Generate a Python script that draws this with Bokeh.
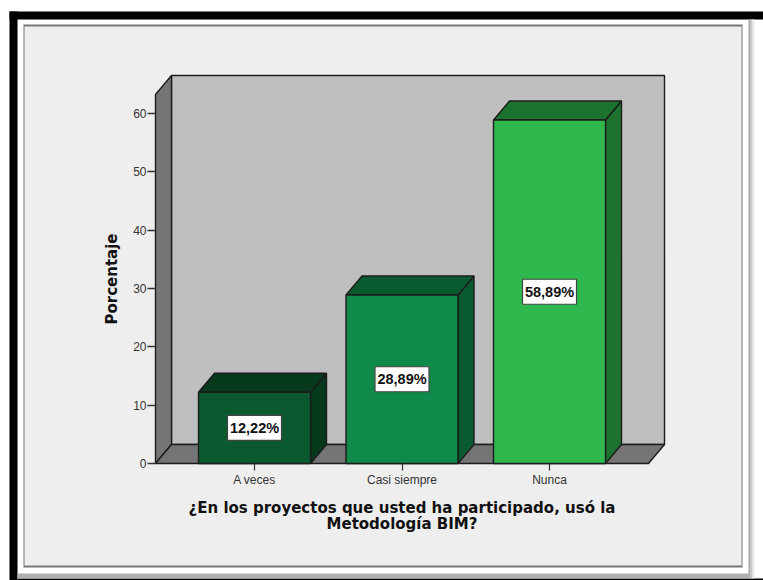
from bokeh.core.properties import value
from bokeh.embed import file_html
from bokeh.models import BoxAnnotation, FixedTicker, LinearAxis, Range1d
from bokeh.plotting import figure
from bokeh.resources import INLINE

categories = ["A veces", "Casi siempre", "Nunca"]
percentages = [12.22, 28.89, 58.89]
percent_labels = ["12,22%", "28,89%", "58,89%"]
y_ticks = [0, 10, 20, 30, 40, 50, 60]
y_title = "Porcentaje"
x_title = "¿En los proyectos que usted ha participado, usó la\nMetodología BIM?"

front_colors = ["#0b5a2f", "#0f8a4b", "#2fb84d"]
shade_colors = ["#07391d", "#0a5a30", "#1c722f"]
wall_color = "#bfbfbf"
side_color = "#757575"
edge_color = "#1c1c1c"

W, H = 763, 580
# pixel scale of the plot: category spacing and height of one percentage point
PX_PER_CAT = 147.5
PX_PER_PCT = 350 / 60
ZERO_X, ZERO_Y = 254, 463

# oblique depth of the 3D box, in data units
DX = 16 / PX_PER_CAT
DY = 19 / PX_PER_PCT
BAR_HALF = 56 / PX_PER_CAT
WALL_X0, WALL_X1 = -99 / PX_PER_CAT, 394 / PX_PER_CAT
WALL_TOP = 369 / PX_PER_PCT

p = figure(
    width=W, height=H, output_backend="svg", toolbar_location=None,
    x_range=Range1d(-ZERO_X / PX_PER_CAT, (W - ZERO_X) / PX_PER_CAT),
    y_range=Range1d((ZERO_Y - H) / PX_PER_PCT, ZERO_Y / PX_PER_PCT),
    x_axis_type=None, y_axis_type=None,
    min_border=0, outline_line_color=None, background_fill_color="white",
    border_fill_color="white",
)
p.grid.visible = False


def box(left, right, top, bottom, color):
    p.add_layout(BoxAnnotation(
        left=left, right=right, top=top, bottom=bottom,
        left_units="canvas", right_units="canvas", top_units="canvas", bottom_units="canvas",
        fill_color=color, fill_alpha=1, line_color=None, level="underlay",
    ))


# page frame, drop shadow and inner panel
box(9, W, 11, 19, "#000000")
box(9, 17, 11, H, "#000000")
box(17, W, 578, H, "#000000")
box(748, 750, 19, 578, "#a6a6a6")
box(750, 752, 19, 578, "#c8c8c8")
box(752, 754, 19, 578, "#e8e8e8")
box(17, 750, 573, 578, "#b0b0b0")
box(23, 742, 24, 567, "#777777")
box(24, 741, 26, 565, "#eeeeee")

# back wall, side wall and floor
p.patch([WALL_X0 + DX, WALL_X1 + DX, WALL_X1 + DX, WALL_X0 + DX],
        [DY, DY, WALL_TOP + DY, WALL_TOP + DY],
        fill_color=wall_color, line_color=edge_color, line_width=1.4)
p.patch([WALL_X0, WALL_X0 + DX, WALL_X0 + DX, WALL_X0],
        [0, DY, WALL_TOP + DY, WALL_TOP],
        fill_color=side_color, line_color=edge_color, line_width=1.4)
p.patch([WALL_X0, WALL_X0 + DX, WALL_X1 + DX, WALL_X1],
        [0, DY, DY, 0],
        fill_color=side_color, line_color=edge_color, line_width=1.4)

# bars: side face, top face, front face
for i, v in enumerate(percentages):
    l, r = i - BAR_HALF, i + BAR_HALF
    p.patch([r, r + DX, r + DX, r], [0, DY, v + DY, v],
            fill_color=shade_colors[i], line_color=edge_color, line_width=1.4)
    p.patch([l, l + DX, r + DX, r], [v, v + DY, v + DY, v],
            fill_color=shade_colors[i], line_color=edge_color, line_width=1.4)
    p.patch([l, r, r, l], [0, 0, v, v],
            fill_color=front_colors[i], line_color=edge_color, line_width=1.4)

# value labels in white boxes at mid-height of each bar
xs = list(range(len(categories)))
mids = [v / 2 for v in percentages]
p.rect(xs, mids, width=54, height=25, width_units="screen", height_units="screen",
       fill_color="white", line_color="#444444", line_width=1.2)
p.text(xs, mids, text=percent_labels, text_align="center", text_baseline="middle",
       text_font=value("Liberation Sans"), text_font_style="bold",
       text_font_size="14.5px", text_color="#111111")

y_axis = LinearAxis(
    fixed_location=WALL_X0, ticker=FixedTicker(ticks=y_ticks),
    bounds=(0, WALL_TOP), axis_line_color=None,
    major_tick_in=0, major_tick_out=8, minor_tick_line_color=None,
    major_tick_line_color="#333333", major_tick_line_width=1.4,
    major_label_standoff=1, major_label_text_font="Liberation Sans",
    major_label_text_font_size="12px", major_label_text_color="#333333",
    axis_label=y_title, axis_label_standoff=9,
    axis_label_text_font="DejaVu Sans", axis_label_text_font_style="bold",
    axis_label_text_font_size="15px", axis_label_text_color="#111111",
)
p.add_layout(y_axis, "left")

x_axis = LinearAxis(
    fixed_location=0, ticker=FixedTicker(ticks=xs),
    major_label_overrides=dict(zip(xs, categories)),
    bounds=(WALL_X0, WALL_X1), axis_line_color=None,
    major_tick_in=0, major_tick_out=7, minor_tick_line_color=None,
    major_tick_line_color="#333333", major_tick_line_width=1.2,
    major_label_standoff=2, major_label_text_font="Liberation Sans",
    major_label_text_font_size="12px", major_label_text_color="#333333",
    axis_label=x_title, axis_label_standoff=9,
    axis_label_text_font="DejaVu Sans", axis_label_text_font_style="bold",
    axis_label_text_font_size="15px", axis_label_text_color="#111111",
    axis_label_text_line_height=0.9,
)
p.add_layout(x_axis, "below")

open("out.html", "w").write(file_html(p, INLINE))
